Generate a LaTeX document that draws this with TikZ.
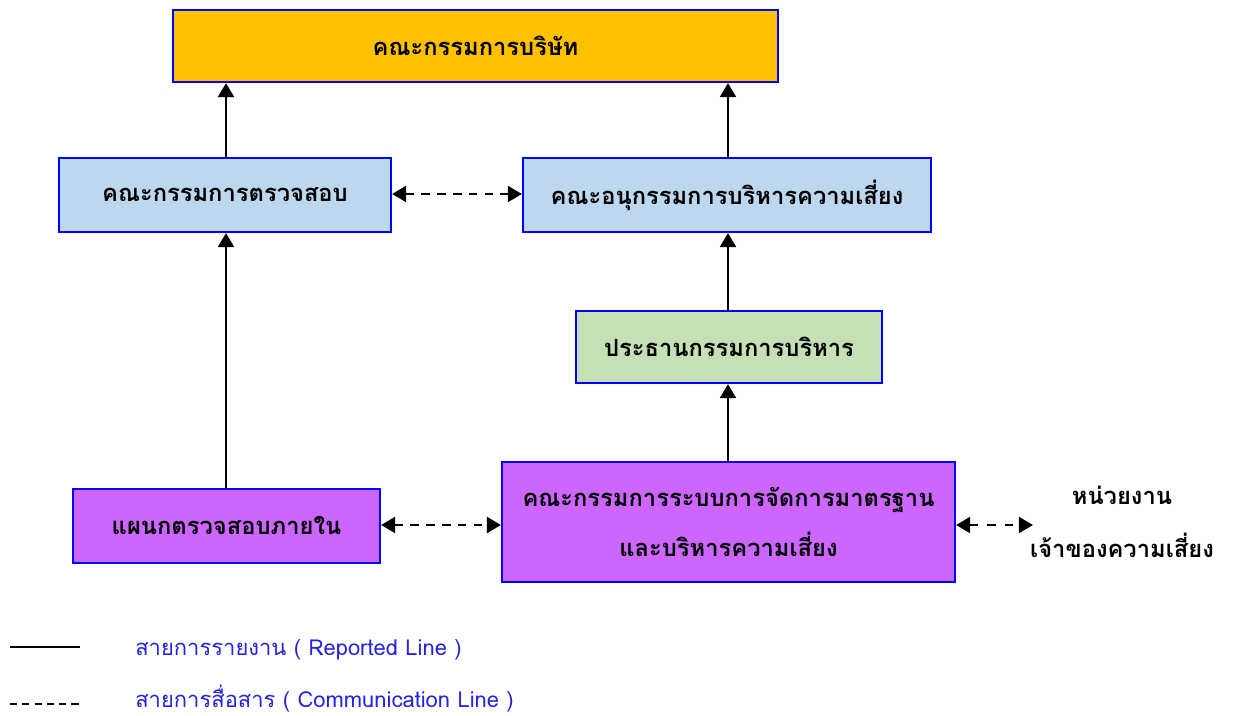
\documentclass[tikz,border=0pt]{standalone}
\usepackage{fontspec}
\newfontfamily\thai[Script=Thai]{Loma}
\usetikzlibrary{arrows.meta}
\definecolor{orangebox}{HTML}{FFC000}
\definecolor{bluebox}{HTML}{BDD7EE}
\definecolor{greenbox}{HTML}{C5E0B4}
\definecolor{purplebox}{HTML}{CC66FF}
\definecolor{legendblue}{HTML}{2323E0}
\tikzset{
  box/.style={draw=blue, line width=1.2pt, inner sep=0pt, font=\thai\bfseries\fontsize{13.5}{20}\selectfont, align=center},
  report/.style={line width=1.6pt, -{Triangle[width=9pt,length=8pt]}},
  comm/.style={line width=1.5pt, dash pattern=on 5pt off 4pt, {Triangle[width=9pt,length=8pt]}-{Triangle[width=9pt,length=8pt]}},
  lbl/.style={font=\thai\fontsize{12.5}{18}\selectfont, text=legendblue, anchor=base west, inner sep=0pt}
}
\begin{document}
\begin{tikzpicture}[x=0.02cm,y=-0.02cm]
\useasboundingbox (0,0) rectangle (1235,716);
\node[box, fill=orangebox, minimum width=605*0.02cm, minimum height=72*0.02cm] (board) at (475.5,46) {คณะกรรมการบริษัท};
\node[box, fill=bluebox, minimum width=332*0.02cm, minimum height=74*0.02cm] (audit) at (225,195) {คณะกรรมการตรวจสอบ};
\node[box, fill=bluebox, minimum width=408*0.02cm, minimum height=74*0.02cm] (risk) at (727,195) {คณะอนุกรรมการบริหารความเสี่ยง};
\node[box, fill=greenbox, minimum width=306*0.02cm, minimum height=72*0.02cm] (ceo) at (729,347) {ประธานกรรมการบริหาร};
\node[box, fill=purplebox, minimum width=307*0.02cm, minimum height=74*0.02cm] (ia) at (226.5,526) {แผนกตรวจสอบภายใน};
\node[box, fill=purplebox, minimum width=453*0.02cm, minimum height=120*0.02cm] (rm) at (728.5,522) {คณะกรรมการระบบการจัดการมาตรฐาน\\[8pt]และบริหารความเสี่ยง};
\node[font=\thai\bfseries\fontsize{13.5}{20}\selectfont, align=center, inner sep=0pt] (owner) at (1122,522) {หน่วยงาน\\[10pt]เจ้าของความเสี่ยง};
\coordinate (ownerl) at (1033,525);
% reported lines
\draw[report] (audit.north -| 226,0) -- (board.south -| 226,0);
\draw[report] (risk.north -| 728,0) -- (board.south -| 728,0);
\draw[report] (ceo.north -| 728,0) -- (risk.south -| 728,0);
\draw[report] (rm.north -| 728,0) -- (ceo.south -| 728,0);
\draw[report] (ia.north -| 226,0) -- (audit.south -| 226,0);
% communication lines
\draw[comm] (audit.east |- 0,194) -- (risk.west |- 0,194);
\draw[comm] (ia.east |- 0,525) -- (rm.west |- 0,525);
\draw[comm, dash pattern=on 5pt off 5pt] (rm.east |- 0,525) -- (ownerl);
% legend
\coordinate (s1) at (10,647); \coordinate (s2) at (80,647);
\coordinate (d1) at (10,704); \coordinate (d2) at (80,704);
\draw[line width=1.4pt] (s1) -- (s2);
\draw[line width=1.1pt, dash pattern=on 4pt off 3pt] (d1) -- (d2);
\node[lbl] (l1) at (135,655) {สายการรายงาน ( Reported Line )};
\node[lbl] (l2) at (135,707) {สายการสื่อสาร ( Communication Line )};
\end{tikzpicture}
\end{document}
